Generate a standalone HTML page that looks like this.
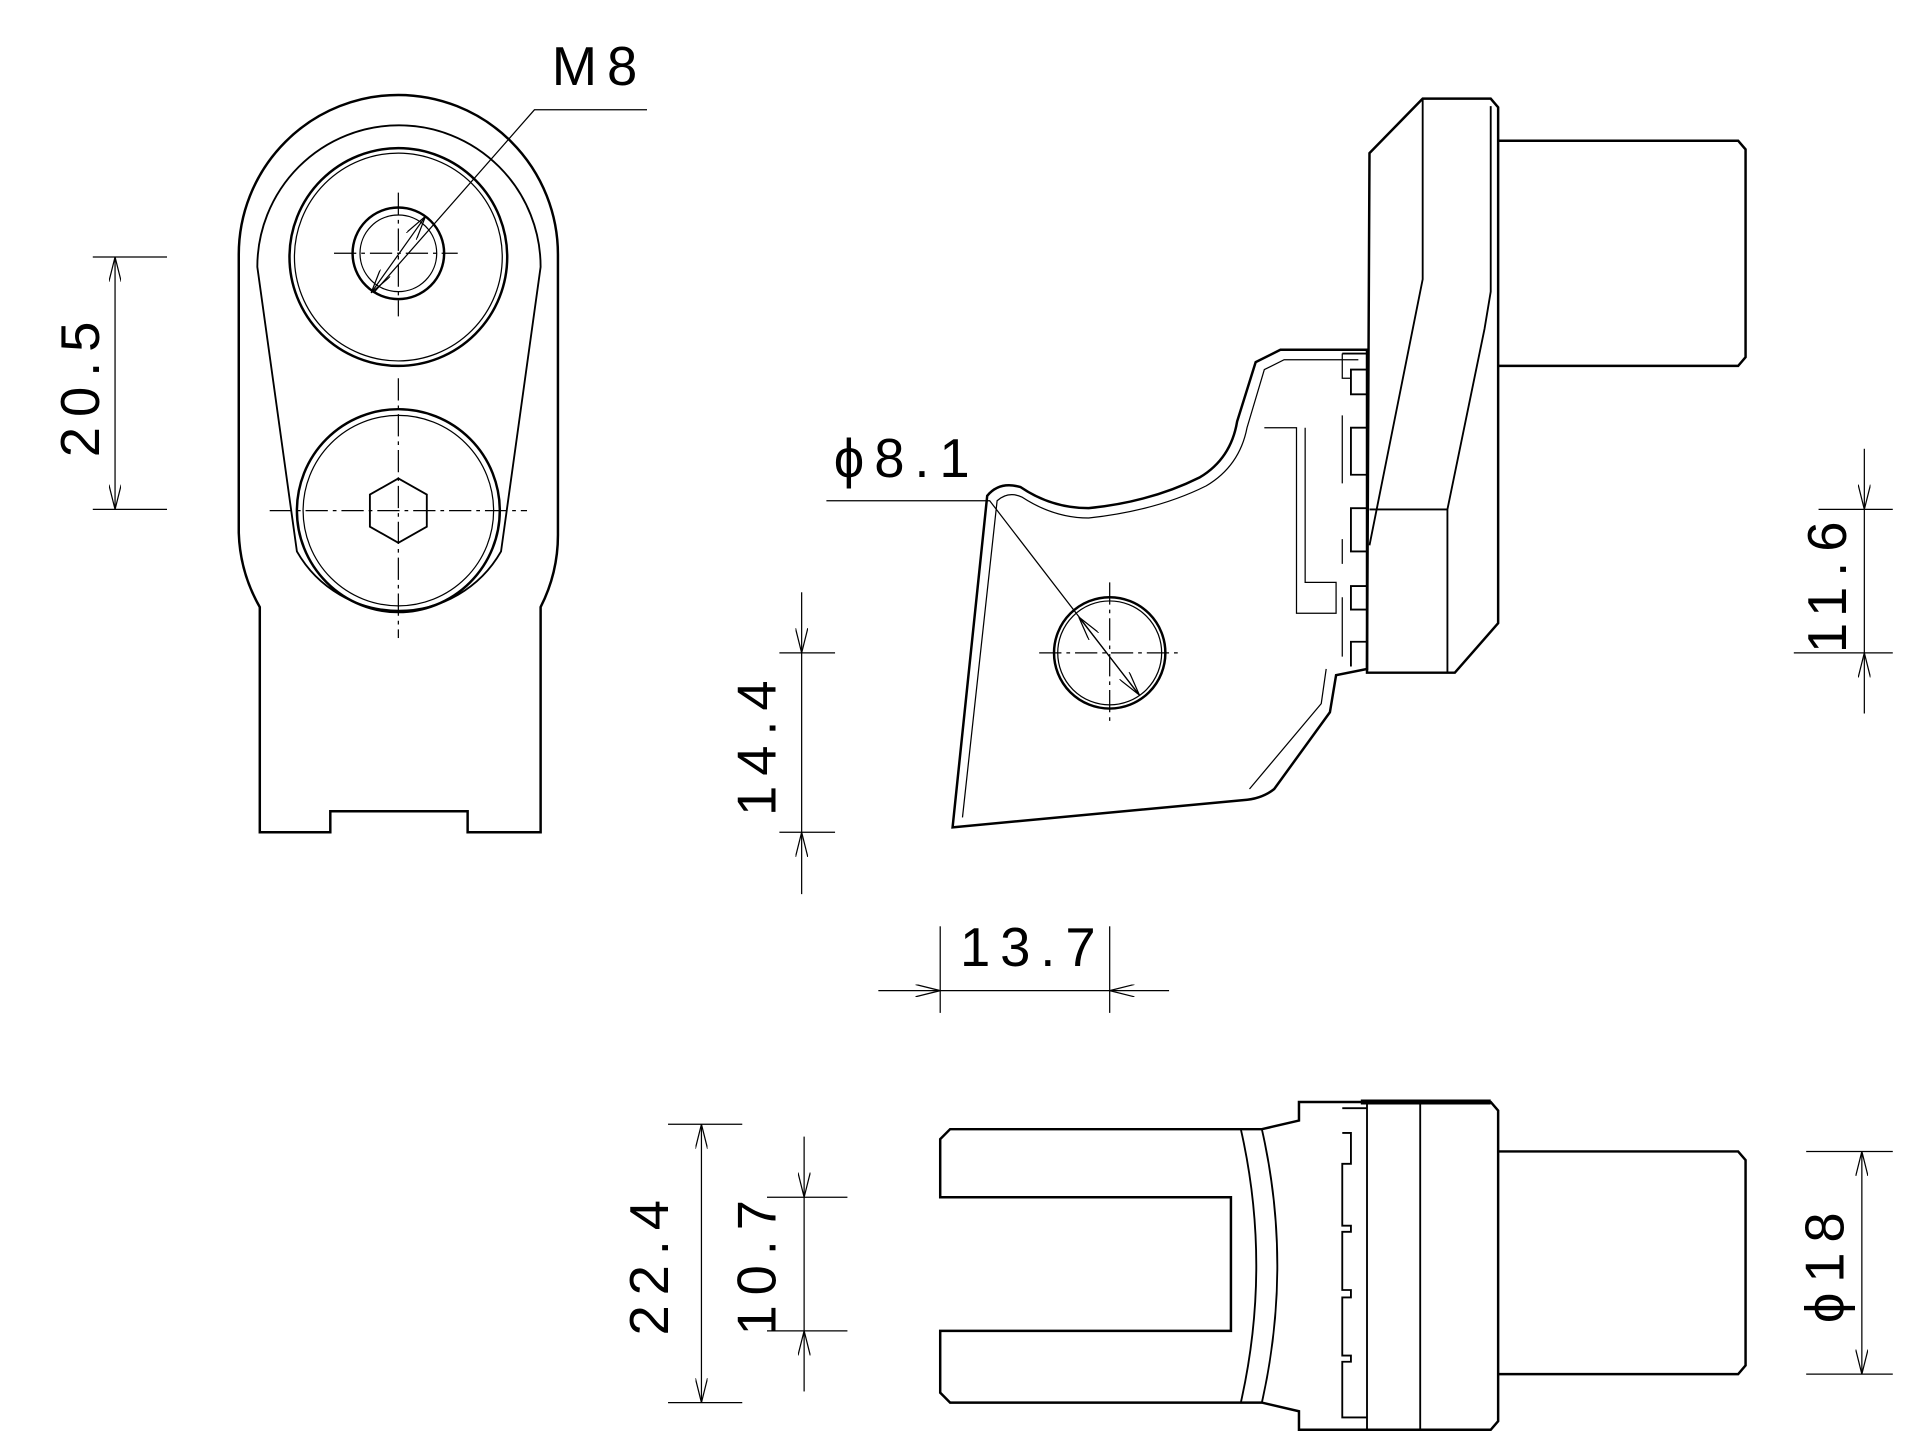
<!DOCTYPE html>
<html><head><meta charset="utf-8"><style>
html,body{margin:0;padding:0;background:#fff;}
svg{display:block;}
text{font-family:"Liberation Sans",sans-serif;font-size:44px;fill:#000;letter-spacing:8px;}
</style></head><body>
<svg width="1920" height="1453" viewBox="0 0 1552 1173" xmlns="http://www.w3.org/2000/svg">
<defs>
<marker id="a" viewBox="0 0 20 10" refX="20" refY="5" markerWidth="20" markerHeight="10" orient="auto-start-reverse" markerUnits="userSpaceOnUse"><path d="M0,0 L20,5 L0,10" fill="none" stroke="#000" stroke-width="1"/></marker>
</defs>
<g fill="none" stroke="#000" stroke-width="2">
<!-- LEFT TOP VIEW -->
<path d="M193,205 A129,129 0 0 1 451,205 L451,430 A129,129 0 0 1 437,490 L437,672 L378,672 L378,655 L267,655 L267,672 L210,672 L210,490 A129,129 0 0 1 193,430 Z"/>
<path d="M208,215 A114,114 0 0 1 437,215 L405,445 A95,95 0 0 1 240,445 Z" stroke-width="1.5"/>
<circle cx="322" cy="207" r="88"/><circle cx="322" cy="207" r="84" stroke-width="1"/>
<circle cx="322" cy="204" r="37"/><circle cx="322" cy="204" r="31" stroke-width="1"/>
<circle cx="322" cy="412" r="82"/><circle cx="322" cy="412" r="77" stroke-width="1"/>
<polygon points="322,386 345,399 345,425 322,438 299,425 299,399" stroke-width="1.5"/>
<g stroke-width="1" stroke-dasharray="18,4,3,4">
<line x1="270" y1="204" x2="370" y2="204"/><line x1="322" y1="155" x2="322" y2="255"/>
<line x1="218" y1="412" x2="426" y2="412"/><line x1="322" y1="305" x2="322" y2="515"/>
</g>
<g stroke-width="1">
<polyline points="523,88 432,88 302,236"/>
<line x1="300" y1="236" x2="344" y2="174" marker-start="url(#a)" marker-end="url(#a)"/>
<line x1="75" y1="207" x2="135" y2="207"/><line x1="75" y1="411" x2="135" y2="411"/>
<line x1="93" y1="207" x2="93" y2="411" marker-start="url(#a)" marker-end="url(#a)"/>
</g>
<!-- SIDE VIEW pedal -->
<path d="M770,668 L798,400 Q808,388 825,393 Q850,410 880,410 Q930,405 970,385 Q995,370 1000,340 L1015,292 L1035,282 L1105,282 L1105,540 L1080,545 L1075,575 L1030,637 Q1020,645 1005,646 L770,668 Z"/>
<path d="M778,660 L806,404 Q815,396 826,401 Q852,418 880,418 Q935,412 975,392 Q1002,376 1008,345 L1022,298 L1038,290 L1098,290" stroke-width="1"/>
<path d="M1010,637 L1068,568 L1072,540" stroke-width="1"/>
<path d="M1022,345 L1048,345 L1048,495 L1080,495 L1080,470 L1055,470 L1055,345" stroke-width="1"/>
<circle cx="897" cy="527" r="45"/><circle cx="897" cy="527" r="42" stroke-width="1"/>
<g stroke-width="1" stroke-dasharray="18,4,3,4"><line x1="840" y1="527" x2="955" y2="527"/><line x1="897" y1="470" x2="897" y2="585"/></g>
<g stroke-width="1">
<polyline points="668,404 800,404 920,560"/>
<line x1="872" y1="498" x2="921" y2="561" marker-start="url(#a)" marker-end="url(#a)"/>
</g>
<!-- mount block side -->
<path d="M1107,123 L1150,79 L1205,79 L1211,86 L1211,503 L1176,543 L1105,543 Z"/>
<path d="M1150,79 L1150,225 L1107,440 M1107,411 L1170,411 L1200,265 L1205,235 L1205,85 M1170,411 L1170,543" stroke-width="1.5"/>
<path d="M1211,113 L1405,113 L1411,120 L1411,288 L1405,295 L1211,295"/>
<path d="M1085,285 L1105,285 L1105,298 L1092,298 L1092,318 L1105,318 L1105,345 L1092,345 L1092,383 L1105,383 L1105,410 L1092,410 L1092,445 L1105,445 L1105,473 L1092,473 L1092,492 L1105,492 L1105,518 L1092,518 L1092,538" stroke-width="1.5"/>
<path d="M1085,285 L1085,305 L1092,305 M1085,335 L1085,390 M1085,435 L1085,455 M1085,482 L1085,530" stroke-width="1"/>
<g stroke-width="1">
<line x1="1470" y1="411" x2="1530" y2="411"/><line x1="1450" y1="527" x2="1530" y2="527"/>
<line x1="1507" y1="362" x2="1507" y2="411" marker-end="url(#a)"/>
<line x1="1507" y1="576" x2="1507" y2="527" marker-end="url(#a)"/>
<line x1="1507" y1="411" x2="1507" y2="527"/>
<line x1="630" y1="527" x2="675" y2="527"/><line x1="630" y1="672" x2="675" y2="672"/>
<line x1="648" y1="478" x2="648" y2="527" marker-end="url(#a)"/>
<line x1="648" y1="722" x2="648" y2="672" marker-end="url(#a)"/>
<line x1="648" y1="527" x2="648" y2="672"/>
<line x1="760" y1="748" x2="760" y2="818"/><line x1="897" y1="748" x2="897" y2="818"/>
<line x1="710" y1="800" x2="760" y2="800" marker-end="url(#a)"/>
<line x1="945" y1="800" x2="897" y2="800" marker-end="url(#a)"/>
<line x1="760" y1="800" x2="897" y2="800"/>
</g>
<!-- BOTTOM VIEW -->
<path d="M768,912 L1020,912 L1050,905 L1050,890 L1205,890 L1211,897 L1211,1148 L1205,1155 L1050,1155 L1050,1140 L1020,1133 L768,1133 L760,1125 L760,1075 L995,1075 L995,967 L760,967 L760,920 Z"/>
<path d="M1020,912 Q1045,1022 1020,1133 M1003,912 Q1028,1022 1003,1133 M1105,890 L1105,1155 M1148,890 L1148,1155" stroke-width="1.5"/>
<path d="M1100,890 L1205,890" stroke-width="4"/>
<path d="M1211,930 L1405,930 L1411,937 L1411,1103 L1405,1110 L1211,1110"/>
<path d="M1085,895 L1105,895 M1085,915 L1092,915 L1092,940 L1085,940 L1085,990 L1092,990 L1092,995 L1085,995 L1085,1042 L1092,1042 L1092,1048 L1085,1048 L1085,1095 L1092,1095 L1092,1100 L1085,1100 L1085,1145 L1105,1145" stroke-width="1.5"/>
<g stroke-width="1">
<line x1="540" y1="908" x2="600" y2="908"/><line x1="540" y1="1133" x2="600" y2="1133"/>
<line x1="567" y1="908" x2="567" y2="1133" marker-start="url(#a)" marker-end="url(#a)"/>
<line x1="620" y1="967" x2="685" y2="967"/><line x1="620" y1="1075" x2="685" y2="1075"/>
<line x1="650" y1="918" x2="650" y2="967" marker-end="url(#a)"/>
<line x1="650" y1="1124" x2="650" y2="1075" marker-end="url(#a)"/>
<line x1="650" y1="967" x2="650" y2="1075"/>
<line x1="1460" y1="930" x2="1530" y2="930"/><line x1="1460" y1="1110" x2="1530" y2="1110"/>
<line x1="1505" y1="930" x2="1505" y2="1110" marker-start="url(#a)" marker-end="url(#a)"/>
</g>
</g>
<text x="446" y="68">M8</text>
<text x="674" y="385">ϕ8.1</text>
<text x="776" y="780">13.7</text>
<text transform="translate(80,310) rotate(-90)" text-anchor="middle">20.5</text>
<text transform="translate(627,600) rotate(-90)" text-anchor="middle">14.4</text>
<text transform="translate(1492,470) rotate(-90)" text-anchor="middle">11.6</text>
<text transform="translate(540,1020) rotate(-90)" text-anchor="middle">22.4</text>
<text transform="translate(627,1020) rotate(-90)" text-anchor="middle">10.7</text>
<text transform="translate(1490,1020) rotate(-90)" text-anchor="middle">ϕ18</text>
</svg>
</body></html>
